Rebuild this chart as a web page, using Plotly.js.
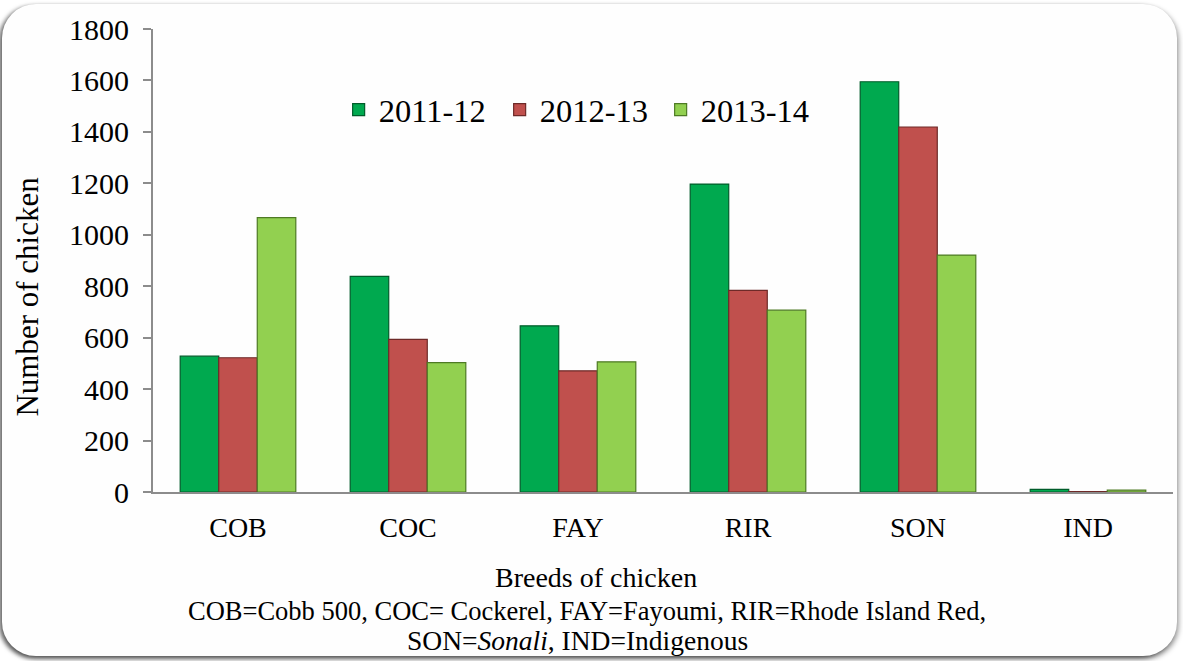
<!DOCTYPE html>
<html>
<head>
<meta charset="utf-8">
<script src="https://cdn.plot.ly/plotly-3.0.1.min.js"></script>
<style>
  html, body { margin: 0; padding: 0; background: #ffffff; overflow: hidden; }
  #frame {
    position: absolute; left: 2px; top: 4px; width: 1175px; height: 652px;
    border-radius: 34px; background: #fefefe;
    box-shadow: -3px 2px 4px rgba(0,0,0,0.55), 2px 3px 5px rgba(0,0,0,0.35);
  }
  #chart { position: absolute; left: 0; top: 0; width: 1183px; height: 661px; }
</style>
</head>
<body>
<div id="frame"></div>
<div id="chart"></div>
<script>
const categories = ["COB", "COC", "FAY", "RIR", "SON", "IND"];
const seriesNames = ["2011-12", "2012-13", "2013-14"];
const values2011 = [528, 838, 646, 1197, 1595, 10];
const values2012 = [522, 593, 471, 784, 1419, 2];
const values2013 = [1067, 503, 506, 707, 921, 7];
const yTicks = [0, 200, 400, 600, 800, 1000, 1200, 1400, 1600, 1800];

const fills = ["#00A94F", "#C0504D", "#92D050"];
const edges = ["#005C2A", "#6E2A28", "#4E7A24"];
const seriesValues = [values2011, values2012, values2013];

const font = "Liberation Serif";

const traces = seriesValues.map((vals, i) => ({
  type: "bar",
  name: seriesNames[i],
  x: categories,
  y: vals,
  marker: { color: fills[i], line: { color: edges[i], width: 1.2 } },
  hoverinfo: "x+y+name"
}));

const layout = {
  width: 1183, height: 661,
  font: { family: font, color: "#000" },
  paper_bgcolor: "rgba(0,0,0,0)",
  plot_bgcolor: "rgba(0,0,0,0)",
  margin: { l: 153, r: 10, t: 29, b: 169 },
  barmode: "group",
  bargap: 0.32,
  bargroupgap: 0,
  showlegend: true,
  legend: {
    orientation: "h",
    x: 0.182, xanchor: "left",
    y: 0.825, yanchor: "middle",
    font: { family: font, size: 32.5, color: "#000" },
    bgcolor: "rgba(0,0,0,0)",
    itemwidth: 30,
    entrywidth: 116,
    entrywidthmode: "pixels",
    tracegroupgap: 0
  },
  xaxis: {
    type: "category",
    showline: true, linecolor: "#8c8c8c", linewidth: 2,
    ticks: "", showgrid: false, zeroline: false,
    tickfont: { family: font, size: 28, color: "#000" },
    ticklabelstandoff: 9
  },
  yaxis: {
    range: [0, 1800],
    tickvals: yTicks,
    ticktext: yTicks.map(String),
    showline: true, linecolor: "#8c8c8c", linewidth: 2,
    ticks: "outside", ticklen: 8, tickwidth: 2, tickcolor: "#8c8c8c",
    showgrid: false, zeroline: false,
    tickfont: { family: font, size: 30, color: "#000" },
    ticklabelstandoff: 8
  },
  annotations: [
    {
      text: "Number of chicken", xref: "paper", yref: "paper",
      x: -0.123, y: 0.421, xanchor: "center", yanchor: "middle",
      textangle: -90, showarrow: false,
      font: { family: font, size: 31, color: "#000" }
    },
    {
      text: "Breeds of chicken", xref: "paper", yref: "paper",
      x: 0.434, y: -0.184, xanchor: "center", yanchor: "middle",
      showarrow: false,
      font: { family: font, size: 28, color: "#000" }
    },
    {
      text: "COB=Cobb 500, COC= Cockerel, FAY=Fayoumi, RIR=Rhode Island Red,",
      xref: "paper", yref: "paper",
      x: 0.4255, y: -0.257, xanchor: "center", yanchor: "middle",
      showarrow: false,
      font: { family: font, size: 26.5, color: "#000" }
    },
    {
      text: "SON=<i>Sonali</i>, IND=Indigenous",
      xref: "paper", yref: "paper",
      x: 0.4157, y: -0.320, xanchor: "center", yanchor: "middle",
      showarrow: false,
      font: { family: font, size: 27.5, color: "#000" }
    }
  ]
};

Plotly.newPlot("chart", traces, layout, { displayModeBar: false, responsive: false });
</script>
</body>
</html>
